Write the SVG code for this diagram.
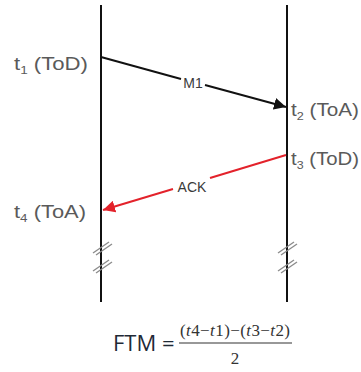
<svg xmlns="http://www.w3.org/2000/svg" width="361" height="372" viewBox="0 0 361 372">
<style>
.lbl{font-family:"Liberation Sans",Arial,sans-serif;font-size:18px;fill:#5a5a5a}
.sub{font-size:11px}
.life{stroke:#111;stroke-width:2;fill:none}
.brk{stroke:#8a8a8a;stroke-width:1.3;fill:none}
.msg{font-family:"Liberation Sans",Arial,sans-serif;font-size:14px;fill:#3a3a3a}
.math{font-family:"Liberation Serif","DejaVu Serif",serif;font-size:17px;fill:#333}
</style>
<defs>
<marker id="ahB" viewBox="0 0 10 10" refX="10" refY="5" markerWidth="6" markerHeight="6" orient="auto" markerUnits="strokeWidth">
<path d="M0,0 L10,5 L0,10 z" fill="#111"/>
</marker>
<marker id="ahR" viewBox="0 0 10 10" refX="10" refY="5" markerWidth="6" markerHeight="6" orient="auto" markerUnits="strokeWidth">
<path d="M0,0 L10,5 L0,10 z" fill="#e3222b"/>
</marker>
</defs>
<rect width="361" height="372" fill="#fff"/>
<g id="node-left">
<line class="life" x1="101" y1="5" x2="101" y2="302"/>
<line class="brk" x1="93" y1="253" x2="109" y2="242"/>
<line class="brk" x1="96" y1="255" x2="112" y2="244"/>
<line class="brk" x1="93" y1="271" x2="109" y2="260"/>
<line class="brk" x1="96" y1="273" x2="112" y2="262"/>
</g>
<g id="node-right">
<line class="life" x1="287" y1="5" x2="287" y2="302"/>
<line class="brk" x1="278" y1="253" x2="294" y2="242"/>
<line class="brk" x1="281" y1="255" x2="297" y2="244"/>
<line class="brk" x1="278" y1="271" x2="294" y2="260"/>
<line class="brk" x1="281" y1="273" x2="297" y2="262"/>
</g>
<g id="connectors">
<path d="M101,57 L181,79" stroke="#111" stroke-width="2" fill="none"/>
<path d="M205,85 L286,107" stroke="#111" stroke-width="2" fill="none" marker-end="url(#ahB)"/>
<text class="msg" x="193" y="88" text-anchor="middle">M1</text>
<path d="M286,155 L210,178" stroke="#e3222b" stroke-width="2" fill="none"/>
<path d="M173,189 L103,210" stroke="#e3222b" stroke-width="2" fill="none" marker-end="url(#ahR)"/>
<text class="msg" x="192" y="192" text-anchor="middle">ACK</text>
</g>
<g id="labels">
<text class="lbl" x="14" y="70" textLength="74" lengthAdjust="spacingAndGlyphs">t<tspan class="sub" dy="4">1</tspan><tspan dy="-4"> (ToD)</tspan></text>
<text class="lbl" x="291" y="116" textLength="68" lengthAdjust="spacingAndGlyphs">t<tspan class="sub" dy="4">2</tspan><tspan dy="-4"> (ToA)</tspan></text>
<text class="lbl" x="291" y="165" textLength="68" lengthAdjust="spacingAndGlyphs">t<tspan class="sub" dy="4">3</tspan><tspan dy="-4"> (ToD)</tspan></text>
<text class="lbl" x="14" y="218" textLength="72" lengthAdjust="spacingAndGlyphs">t<tspan class="sub" dy="4">4</tspan><tspan dy="-4"> (ToA)</tspan></text>
</g>
<g id="formula">
<text x="113" y="351" font-family="'Open Sans','Liberation Sans',sans-serif" font-size="22" fill="#1f2a36">FTM =</text>
<text class="math" x="235" y="336" text-anchor="middle" textLength="110">(<tspan font-style="italic">t</tspan>4−<tspan font-style="italic">t</tspan>1)−(<tspan font-style="italic">t</tspan>3−<tspan font-style="italic">t</tspan>2)</text>
<line x1="179" y1="343" x2="292" y2="343" stroke="#333" stroke-width="1.2"/>
<text class="math" x="235" y="364" text-anchor="middle">2</text>
</g>
</svg>
